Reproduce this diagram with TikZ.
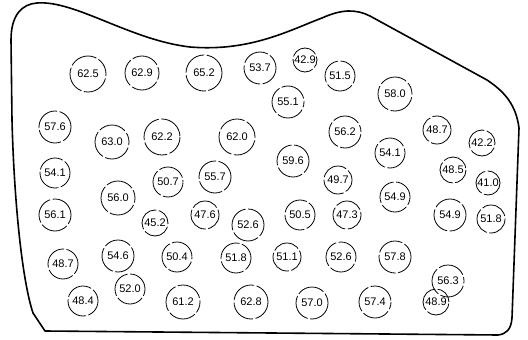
\documentclass[tikz,border=0pt]{standalone}
\usepackage{fontspec}
\setmainfont{Liberation Sans}
\usepackage{tikz}

\begin{document}
\begin{tikzpicture}[x=1pt,y=-1pt,
rim/.style={line width=1.6pt,line join=round},
spot/.style={circle,draw,line width=0.8pt,dash pattern=on 28pt off 2.5pt,
  inner sep=0pt,font=\fontsize{11}{12}\selectfont}]
\useasboundingbox (0,0) rectangle (528,340);
\draw[rim] (37,3) .. controls (75,0) and (130,40) .. (190,47)
  .. controls (250,52) and (290,30) .. (322,18) .. controls (342,9) and (356,9) .. (370,16)
  -- (487,80) .. controls (505,92) and (516,105) .. (519,128)
  -- (512,318) .. controls (511,330) and (506,334) .. (498,335)
  -- (45,331) -- (33,313) .. controls (22,280) and (14,200) .. (12,120)
  -- (11,40) .. controls (11,15) and (22,4) .. (37,3) -- cycle;
\foreach \px/\py/\r/\v [count=\i] in {
  88/74/18/62.5, 142/73/17/62.9, 204/73/18/65.2, 260/68/16/53.7,
  305/60/12/42.9, 340/76/15/51.5, 395/94/17/58.0, 288/102/16/55.1,
  55/127/16/57.6, 112/142/17/63.0, 162/137/18/62.2, 237/137/18/62.0,
  345/132/16/56.2, 437/130/14/48.7, 482/143/13/42.2, 390/153/15/54.1,
  293/161/16/59.6, 55/173/15/54.1, 168/182/15/50.7, 215/177/16/55.7,
  338/180/14/49.7, 453/170/13/48.5, 488/183/12/41.0, 118/198/17/56.0,
  55/215/16/56.1, 155/223/13/45.2, 205/215/14/47.6, 248/225/16/52.6,
  300/215/15/50.5, 347/215/14/47.3, 395/197/15/54.9, 450/215/16/54.9,
  491/219/14/51.8, 63/264/15/48.7, 118/256/16/54.6, 177/257/15/50.4,
  236/258/15/51.8, 287/257/14/51.1, 341/257/15/52.6, 395/257/16/57.8,
  448/281/16/56.3, 130/289/15/52.0, 83/301/15/48.4, 183/302/17/61.2,
  251/302/17/62.8, 312/303/16/57.0, 375/302/16/57.4, 436/302/13/48.9}
  \node[spot,minimum size={2*\r*1pt},dash phase={\i*11pt}] (s\i) at (\px,\py) {\v};
\end{tikzpicture}
\end{document}
